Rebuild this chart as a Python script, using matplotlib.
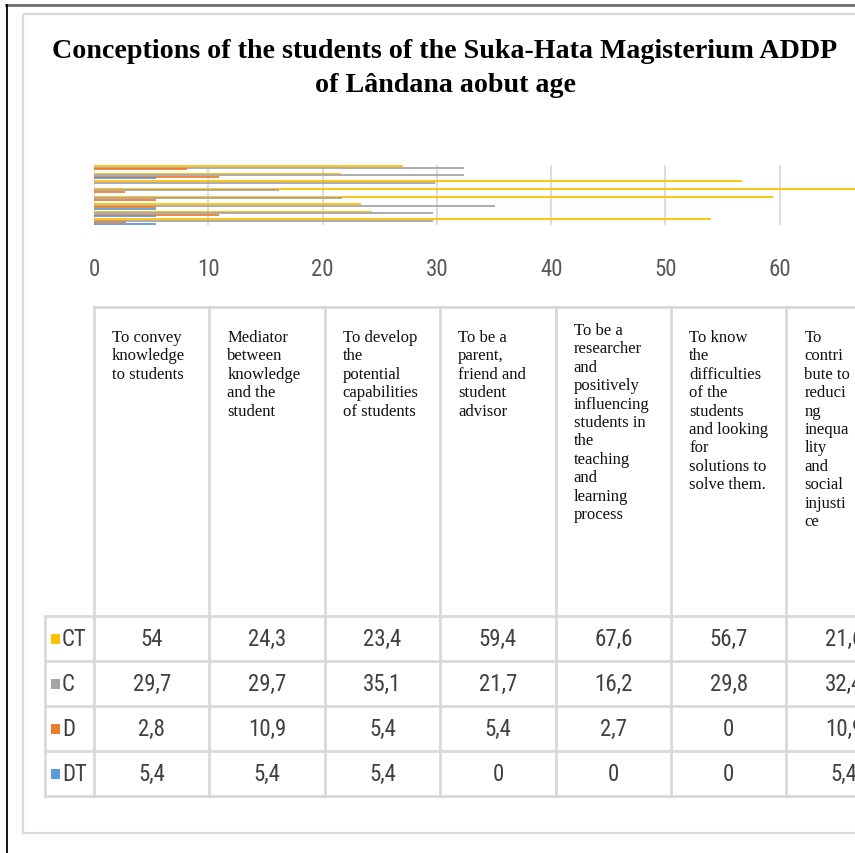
import matplotlib
matplotlib.use('Agg')
import matplotlib.pyplot as plt
from matplotlib.lines import Line2D
from matplotlib.patches import Rectangle
from matplotlib import font_manager

# Survey answers (percent), one value per conception
CATEGORIES = [
    'To convey\nknowledge\nto students',
    'Mediator\nbetween\nknowledge\nand the\nstudent',
    'To develop\nthe\npotential\ncapabilities\nof students',
    'To be a\nparent,\nfriend and\nstudent\nadvisor',
    'To be a\nresearcher\nand\npositively\ninfluencing\nstudents in\nthe\nteaching\nand\nlearning\nprocess',
    'To know\nthe\ndifficulties\nof the\nstudents\nand looking\nfor\nsolutions to\nsolve them.',
    'To\ncontri\nbute to\nreduci\nng\ninequa\nlity\nand\nsocial\ninjusti\nce',
    '',
]
SERIES = ['CT', 'C', 'D', 'DT']
CT = [54, 24.3, 23.4, 59.4, 67.6, 56.7, 21.6, 27.0]
C = [29.7, 29.7, 35.1, 21.7, 16.2, 29.8, 32.4, 32.4]
D = [2.8, 10.9, 5.4, 5.4, 2.7, 0, 10.9, 8.1]
DT = [5.4, 5.4, 5.4, 0, 0, 0, 5.4, 0]
X_TICKS = [0, 10, 20, 30, 40, 50, 60]

COLORS = {'CT': '#FFC000', 'C': '#A5A5A5', 'D': '#ED7D31', 'DT': '#5B9BD5'}
GRID = '#D9D9D9'
SERIF = ['Liberation Serif', 'DejaVu Serif']

# pick a narrow sans face if one is installed
installed = {f.name for f in font_manager.fontManager.ttflist}
NARROW = [n for n in ['Liberation Sans Narrow', 'Roboto Condensed',
                      'DejaVu Sans Condensed', 'Open Sans Condensed']
          if n in installed] + ['DejaVu Sans']

W, H = 855, 854
fig = plt.figure(figsize=(W / 100, H / 100), dpi=100)


def fig_rect(x0, y0, x1, y1):
    """Pixel box (top-left origin) to figure fraction rect."""
    return [x0 / W, 1 - y1 / H, (x1 - x0) / W, (y1 - y0) / H]


num_font = dict(fontfamily=NARROW, fontstretch='condensed', fontsize=16.5,
                color='#404040')

# ---- bar chart (axis runs past the right edge) ----
ax = fig.add_axes(fig_rect(94, 166, 894, 226))
values = {'CT': CT, 'C': C, 'D': D, 'DT': DT}
offsets = {'CT': 0.3, 'C': 0.1, 'D': -0.1, 'DT': -0.3}
ypos = list(range(len(CATEGORIES)))
for s in SERIES:
    ax.barh([y + offsets[s] for y in ypos], values[s], height=0.26,
            color=COLORS[s], alpha=0.9, linewidth=0, zorder=3)
ax.set_xlim(0, 70)
ax.set_ylim(-0.45, len(CATEGORIES) - 0.55)
ax.set_xticks(X_TICKS)
ax.set_xticklabels([str(t) for t in X_TICKS], fontfamily=NARROW,
                   fontstretch='condensed', fontsize=16.5, color='#595959')
ax.tick_params(axis='x', length=0, pad=23)
ax.set_yticks([])
ax.grid(axis='x', color=GRID, linewidth=1.3, zorder=0)
for sp in ax.spines.values():
    sp.set_visible(False)
ax.set_facecolor('none')

# ---- overlay in pixel coordinates for frame, title and data table ----
ov = fig.add_axes([0, 0, 1, 1], zorder=-1)
ov.set_xlim(0, W)
ov.set_ylim(H, 0)
ov.axis('off')

# page frame and chart area border
ov.add_line(Line2D([6, W], [6, 6], color='#6E6E6E', linewidth=2))
ov.add_line(Line2D([7, 7], [6, H], color='black', linewidth=1.3))
ov.add_patch(Rectangle((23, 15), 900, 819, fill=False, edgecolor=GRID,
                       linewidth=1.6))

ov.text(445, 52, 'Conceptions of the students of the Suka-Hata Magisterium ADDP',
        ha='center', va='center', fontfamily=SERIF, fontweight='bold',
        fontsize=20.2)
ov.text(445, 85, 'of Lândana aobut age', ha='center', va='center',
        fontfamily=SERIF, fontweight='bold', fontsize=20.2)

# data table grid
col_w = 115.4
x_left = 94
ncol = len(CATEGORIES)
x_right = x_left + col_w * ncol
head_top, head_bot = 308, 617
row_h = 45
rows_bot = head_bot + row_h * len(SERIES)
key_left = 45

ov.add_line(Line2D([x_left, x_right], [head_top, head_top], color=GRID, linewidth=2))
for i in range(ncol + 1):
    x = x_left + col_w * i
    ov.add_line(Line2D([x, x], [head_top, rows_bot], color=GRID, linewidth=2))
ov.add_line(Line2D([key_left, key_left], [head_bot, rows_bot], color=GRID, linewidth=2))
for r in range(len(SERIES) + 1):
    y = head_bot + row_h * r
    ov.add_line(Line2D([key_left, x_right], [y, y], color=GRID, linewidth=2))

# header labels
for i, label in enumerate(CATEGORIES):
    top = 323 if label.count('\n') > 9 and label.startswith('To be') else 330
    ov.text(x_left + col_w * i + 18, top, label, ha='left', va='top',
            fontfamily=SERIF, fontsize=12, linespacing=1.2, color='#111111')


def fmt(v):
    return f'{v:g}'.replace('.', ',')


# series rows: legend key + values
for r, s in enumerate(SERIES):
    yc = head_bot + row_h * r + row_h / 2
    ov.add_patch(Rectangle((51, yc - 5), 9, 10, color=COLORS[s], linewidth=0))
    ov.text(62, yc, s, ha='left', va='center', **num_font)
    for i, v in enumerate(values[s]):
        ov.text(x_left + col_w * (i + 0.5), yc, fmt(v), ha='center',
                va='center', **num_font)

fig.savefig('out.png', dpi=100)
